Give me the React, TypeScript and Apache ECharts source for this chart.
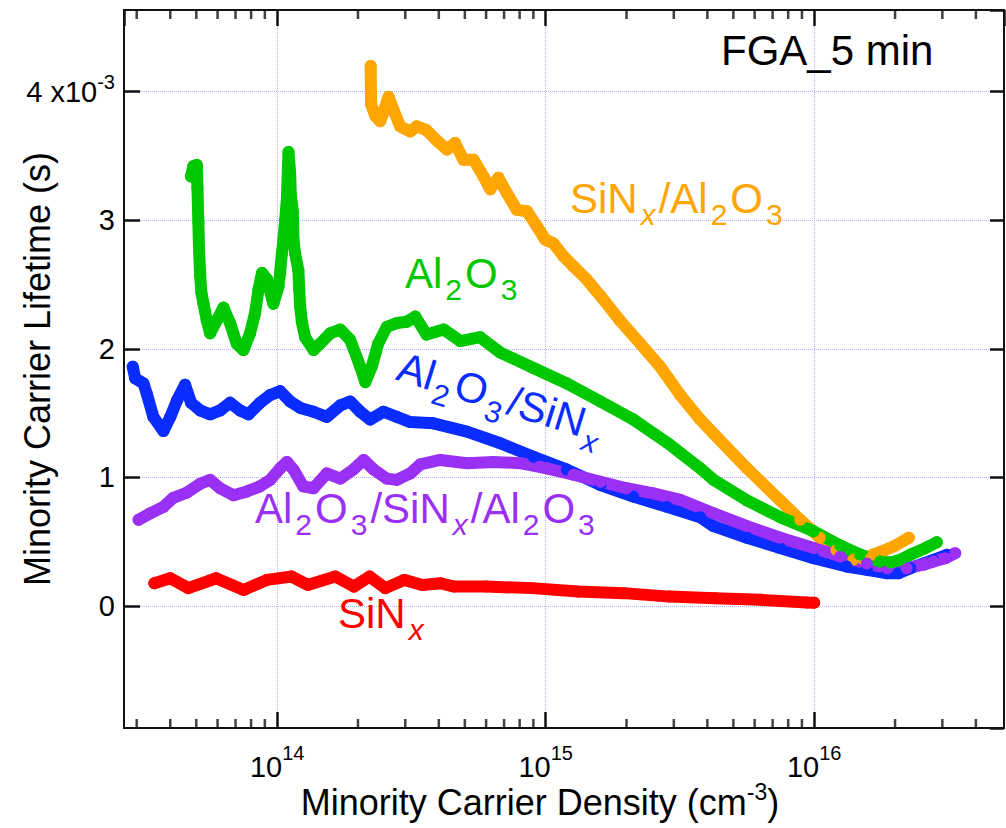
import React, { useEffect, useRef } from "react";
import * as echarts from "echarts";

const FONT = "'Liberation Sans', Arial, Helvetica, sans-serif";

// x: minority carrier density (cm^-3); y: minority carrier lifetime in units of 1e-3 s
const orangeDensity = [2.23e14, 2.235e14, 2.24e14, 2.32e14, 2.42e14, 2.49e14, 2.6e14, 2.71e14, 2.87e14, 3.13e14, 3.31e14, 3.6e14, 3.93e14, 4.29e14, 4.6e14, 4.94e14, 5.39e14, 5.87e14, 6.22e14, 6.67e14, 7.17e14, 7.81e14, 8.52e14, 9.29e14, 9.96e14, 1.069e15, 1.165e15, 1.27e15, 1.42e15, 1.6e15, 1.89e15, 2.25e15, 2.67e15, 3.17e15, 3.76e15, 4.22e15, 5.62e15, 7.47e15, 8.87e15, 1.05e16, 1.21e16, 1.4e16, 1.53e16, 1.66e16, 1.82e16, 2.01e16, 2.25e16];
const orangeLifetime = [4.2, 4.0, 3.9, 3.81, 3.77, 3.84, 3.96, 3.86, 3.73, 3.69, 3.73, 3.7, 3.62, 3.55, 3.6, 3.47, 3.47, 3.34, 3.24, 3.33, 3.21, 3.08, 3.07, 2.95, 2.85, 2.82, 2.72, 2.64, 2.54, 2.41, 2.22, 2.04, 1.86, 1.64, 1.45, 1.34, 1.07, 0.82, 0.67, 0.53, 0.435, 0.36, 0.36, 0.4, 0.43, 0.47, 0.53];

const blueDensity = [2.9e13, 2.96e13, 3.18e13, 3.27e13, 3.46e13, 3.77e13, 4.0e13, 4.24e13, 4.54e13, 4.78e13, 5.17e13, 5.63e13, 6.13e13, 6.68e13, 7.28e13, 7.82e13, 8.64e13, 9.42e13, 1.026e14, 1.118e14, 1.22e14, 1.366e14, 1.53e14, 1.72e14, 1.87e14, 2.04e14, 2.22e14, 2.49e14, 2.79e14, 3.13e14, 3.82e14, 5.09e14, 6.78e14, 9.0e14, 1.2e15, 1.6e15, 2.12e15, 2.83e15, 3.76e15, 4.22e15, 5.62e15, 7.47e15, 9.95e15, 1.32e16, 1.57e16, 1.87e16, 2.06e16, 2.28e16, 2.78e16, 3.12e16];
const blueLifetime = [1.86, 1.77, 1.73, 1.65, 1.47, 1.36, 1.47, 1.6, 1.72, 1.58, 1.52, 1.49, 1.52, 1.58, 1.52, 1.49, 1.58, 1.64, 1.67, 1.59, 1.54, 1.51, 1.47, 1.56, 1.59, 1.51, 1.45, 1.51, 1.47, 1.43, 1.42, 1.355, 1.265, 1.16, 1.06, 0.94, 0.85, 0.77, 0.69, 0.62, 0.53, 0.45, 0.37, 0.306, 0.28, 0.254, 0.254, 0.293, 0.358, 0.397];

const purpleDensity = [3.05e13, 3.37e13, 3.77e13, 4.1e13, 4.6e13, 5.17e13, 5.63e13, 6.13e13, 6.89e13, 7.72e13, 8.64e13, 9.42e13, 1.026e14, 1.087e14, 1.15e14, 1.25e14, 1.366e14, 1.53e14, 1.72e14, 1.92e14, 2.1e14, 2.29e14, 2.56e14, 2.79e14, 3.13e14, 3.41e14, 4.05e14, 5.09e14, 6.39e14, 8.03e14, 1.01e15, 1.27e15, 1.6e15, 2.0e15, 2.52e15, 3.17e15, 4.22e15, 5.62e15, 7.47e15, 9.95e15, 1.25e16, 1.57e16, 1.87e16, 2.21e16, 2.55e16, 2.78e16, 3.07e16, 3.35e16];
const purpleLifetime = [0.67, 0.72, 0.77, 0.84, 0.88, 0.95, 0.98, 0.915, 0.86, 0.89, 0.93, 0.98, 1.07, 1.12, 1.06, 0.93, 0.915, 1.03, 0.99, 1.06, 1.135, 1.06, 0.99, 0.98, 1.03, 1.1, 1.135, 1.11, 1.12, 1.11, 1.07, 1.02, 0.965, 0.915, 0.875, 0.825, 0.72, 0.62, 0.53, 0.45, 0.385, 0.33, 0.293, 0.293, 0.32, 0.345, 0.37, 0.41];

const greenDensity = [4.78e13, 4.87e13, 5.02e13, 5.05e13, 5.09e13, 5.12e13, 5.17e13, 5.22e13, 5.32e13, 5.47e13, 5.63e13, 5.96e13, 6.31e13, 6.68e13, 7.07e13, 7.49e13, 7.93e13, 8.28e13, 8.52e13, 8.78e13, 9.17e13, 9.68e13, 1.011e14, 1.026e14, 1.041e14, 1.056e14, 1.071e14, 1.087e14, 1.102e14, 1.118e14, 1.124e14, 1.144e14, 1.15e14, 1.167e14, 1.2e14, 1.208e14, 1.218e14, 1.236e14, 1.271e14, 1.366e14, 1.446e14, 1.576e14, 1.716e14, 1.87e14, 2.04e14, 2.13e14, 2.25e14, 2.38e14, 2.56e14, 2.79e14, 3.04e14, 3.27e14, 3.6e14, 4.17e14, 4.81e14, 5.7e14, 6.78e14, 9.0e14, 1.2e15, 1.6e15, 2.12e15, 2.83e15, 3.76e15, 4.22e15, 5.62e15, 7.47e15, 9.95e15, 1.25e16, 1.48e16, 1.76e16, 1.92e16, 2.09e16, 2.31e16, 2.59e16, 2.86e16];
const greenLifetime = [3.34, 3.42, 3.43, 3.25, 2.98, 2.76, 2.57, 2.44, 2.35, 2.22, 2.12, 2.22, 2.32, 2.2, 2.04, 1.99, 2.12, 2.28, 2.46, 2.59, 2.54, 2.35, 2.48, 2.59, 2.74, 2.85, 3.0, 3.16, 3.53, 3.37, 3.2, 3.07, 2.85, 2.74, 2.61, 2.47, 2.33, 2.21, 2.09, 1.99, 2.04, 2.12, 2.15, 2.07, 1.86, 1.74, 1.86, 2.04, 2.17, 2.2, 2.21, 2.25, 2.11, 2.15, 2.06, 2.09, 1.97, 1.85, 1.73, 1.59, 1.45, 1.27, 1.07, 0.98, 0.82, 0.69, 0.58, 0.47, 0.4, 0.345, 0.337, 0.358, 0.404, 0.449, 0.495];

const redDensity = [3.49e13, 4.0e13, 4.67e13, 5.93e13, 7.5e13, 9.16e13, 1.133e14, 1.3e14, 1.646e14, 1.93e14, 2.21e14, 2.53e14, 2.97e14, 3.47e14, 4.06e14, 4.56e14, 6.0e14, 8.9e14, 1.32e15, 1.95e15, 2.89e15, 4.27e15, 6.33e15, 9.4e15, 1.0e16];
const redLifetime = [0.176, 0.215, 0.138, 0.215, 0.124, 0.202, 0.228, 0.163, 0.228, 0.15, 0.228, 0.138, 0.202, 0.163, 0.176, 0.15, 0.15, 0.138, 0.111, 0.099, 0.072, 0.06, 0.047, 0.026, 0.025];

// axis ranges and minor ticks
const xMin = 2.69e13;
const xMax = 5.09e16;
const yMin = -0.95;
const yMax = 4.635;
const xMinorTicks = [3e13, 4e13, 5e13, 6e13, 7e13, 8e13, 9e13, 2e14, 3e14, 4e14, 5e14, 6e14, 7e14, 8e14, 9e14, 2e15, 3e15, 4e15, 5e15, 6e15, 7e15, 8e15, 9e15, 2e16, 3e16, 4e16];

const AXIS_COLOR = "#111111";
const GRID_COLOR = "#b0b0ff";

const zip = (xs: number[], ys: number[]) => xs.map((x, i) => [x, ys[i]]);

const labelRich = {
  n: { fontSize: 42, lineHeight: 42, fontFamily: FONT, verticalAlign: "bottom", padding: [0, 0, 10, 0] },
  s: { fontSize: 30, lineHeight: 30, fontFamily: FONT, verticalAlign: "bottom", padding: [0, 3, 0, 3] },
  sx: { fontSize: 30, lineHeight: 30, fontFamily: FONT, fontStyle: "italic", verticalAlign: "bottom", padding: [0, 3, 0, 3] },
};

function makeLabel(text: string, x: number, y: number, fill: string, rotation = 0) {
  return {
    type: "text",
    x,
    y,
    rotation,
    z: 100,
    silent: true,
    style: {
      text,
      rich: labelRich,
      fill,
      align: "left",
      verticalAlign: "top",
      textAlign: "left",
      textVerticalAlign: "top",
      fontFamily: FONT,
      fontSize: 42,
    },
  };
}

function minorTickSeries(data: number[][], offsetY: number) {
  return {
    type: "scatter",
    xAxisIndex: 0,
    yAxisIndex: 0,
    data,
    symbol: "rect",
    symbolSize: [2.5, 9],
    symbolOffset: [0, offsetY],
    itemStyle: { color: AXIS_COLOR },
    clip: false,
    silent: true,
    z: 20,
    emphasis: { disabled: true },
  };
}

export default function App() {
  const ref = useRef<HTMLDivElement>(null);

  useEffect(() => {
    if (!ref.current) return;
    const chart = echarts.init(ref.current, null, { renderer: "svg" });

    const lineSeries = (name: string, xs: number[], ys: number[], color: string) => ({
      type: "line",
      name,
      data: zip(xs, ys),
      xAxisIndex: 0,
      yAxisIndex: 0,
      showSymbol: true,
      symbol: "circle",
      symbolSize: 12,
      itemStyle: { color, borderWidth: 0 },
      lineStyle: { color, width: 12, cap: "round", join: "round" },
      emphasis: { disabled: true },
      silent: true,
    });

    const tickLabelRich = {
      n: { fontSize: 29, lineHeight: 29, fontFamily: FONT, color: "#000", verticalAlign: "bottom" },
      s: { fontSize: 20, lineHeight: 20, fontFamily: FONT, color: "#000", verticalAlign: "bottom", padding: [0, 0, 18, 0] },
    };
    const yTickRich = {
      n: { fontSize: 29, lineHeight: 29, fontFamily: FONT, color: "#000", verticalAlign: "bottom" },
      s: { fontSize: 20, lineHeight: 20, fontFamily: FONT, color: "#000", verticalAlign: "bottom", padding: [0, 0, 14, 0] },
    };

    const axisLine = { show: true, onZero: false, lineStyle: { color: AXIS_COLOR, width: 2 } };
    const majorTick = (length: number) => ({ show: true, inside: true, length, lineStyle: { color: AXIS_COLOR, width: 2.5 } });

    const option: any = {
      animation: false,
      backgroundColor: "#ffffff",
      grid: { left: 124, right: 2, top: 10, bottom: 100, containLabel: false, outerBoundsMode: "none" },
      xAxis: [
        {
          type: "log",
          logBase: 10,
          min: xMin,
          max: xMax,
          position: "bottom",
          axisLine,
          axisTick: majorTick(16),
          minorTick: { show: false },
          axisLabel: {
            show: true,
            showMinLabel: false,
            showMaxLabel: false,
            margin: 24,
            formatter: (v: number) => `{n|10}{s|${Math.round(Math.log10(v))}}`,
            rich: tickLabelRich,
          },
          splitLine: { show: true, lineStyle: { color: GRID_COLOR, type: "dotted", width: 1 } },
        },
        {
          type: "log",
          logBase: 10,
          min: xMin,
          max: xMax,
          position: "top",
          axisLine,
          axisTick: majorTick(16),
          axisLabel: { show: false },
          splitLine: { show: false },
        },
      ],
      yAxis: [
        {
          type: "value",
          min: yMin,
          max: yMax,
          position: "left",
          axisLine,
          axisTick: majorTick(16),
          axisLabel: {
            show: true,
            showMinLabel: false,
            showMaxLabel: false,
            margin: 9,
            formatter: (v: number) => (Math.abs(v - 4) < 1e-6 ? "{n|4 x10}{s|-3}" : `{n|${Math.round(v)}}`),
            rich: yTickRich,
          },
          splitLine: { show: true, lineStyle: { color: GRID_COLOR, type: "dotted", width: 1 } },
        },
        {
          type: "value",
          min: yMin,
          max: yMax,
          position: "right",
          axisLine,
          axisTick: majorTick(14),
          axisLabel: { show: false },
          splitLine: { show: false },
        },
      ],
      series: [
        lineSeries("SiNx/Al2O3", orangeDensity, orangeLifetime, "#ffa500"),
        lineSeries("Al2O3/SiNx", blueDensity, blueLifetime, "#0a2cff"),
        lineSeries("Al2O3/SiNx/Al2O3", purpleDensity, purpleLifetime, "#9b30f5"),
        lineSeries("Al2O3", greenDensity, greenLifetime, "#00c800"),
        lineSeries("SiNx", redDensity, redLifetime, "#ff0000"),
        minorTickSeries(xMinorTicks.map((v) => [v, yMin]), -4.5),
        minorTickSeries(xMinorTicks.map((v) => [v, yMax]), 4.5),
      ],
      graphic: [
        makeLabel("{n|FGA_5 min}", 721, 39.5, "#000000"),
        makeLabel("{n|SiN}{sx|x}{n|/Al}{s|2}{n|O}{s|3}", 570, 187.8, "#ffa500"),
        makeLabel("{n|Al}{s|2}{n|O}{s|3}", 405, 262.8, "#00c800"),
        makeLabel("{n|Al}{s|2}{n|O}{s|3}{n|/SiN}{sx|x}", 402, 355, "#0a2cff", -0.3),
        makeLabel("{n|Al}{s|2}{n|O}{s|3}{n|/SiN}{sx|x}{n|/Al}{s|2}{n|O}{s|3}", 255, 497.8, "#9b30f5"),
        makeLabel("{n|SiN}{sx|x}", 338, 602.8, "#ff0000"),
        {
          type: "text",
          x: 540,
          y: 784,
          z: 100,
          silent: true,
          style: {
            text: "{n|Minority Carrier Density (cm}{s|-3}{n|)}",
            rich: {
              n: { fontSize: 36, lineHeight: 36, fontFamily: FONT, verticalAlign: "bottom" },
              s: { fontSize: 23, lineHeight: 23, fontFamily: FONT, verticalAlign: "bottom", padding: [0, 0, 17, 0] },
            },
            fill: "#000",
            align: "center",
            verticalAlign: "top",
            textAlign: "center",
            textVerticalAlign: "top",
            fontFamily: FONT,
            fontSize: 36,
          },
        },
        {
          type: "text",
          x: 37.5,
          y: 369,
          rotation: Math.PI / 2,
          z: 100,
          silent: true,
          style: {
            text: "{n|Minority Carrier Lifetime (s)}",
            rich: { n: { fontSize: 36, lineHeight: 36, fontFamily: FONT } },
            fill: "#000",
            align: "center",
            verticalAlign: "middle",
            textAlign: "center",
            textVerticalAlign: "middle",
            fontFamily: FONT,
            fontSize: 36,
          },
        },
      ],
    };

    chart.setOption(option);
    return () => {
      chart.dispose();
    };
  }, []);

  return (
    <div
      ref={ref}
      style={{ position: "absolute", left: 0, top: 0, width: 1006, height: 828, background: "#fff" }}
    />
  );
}
